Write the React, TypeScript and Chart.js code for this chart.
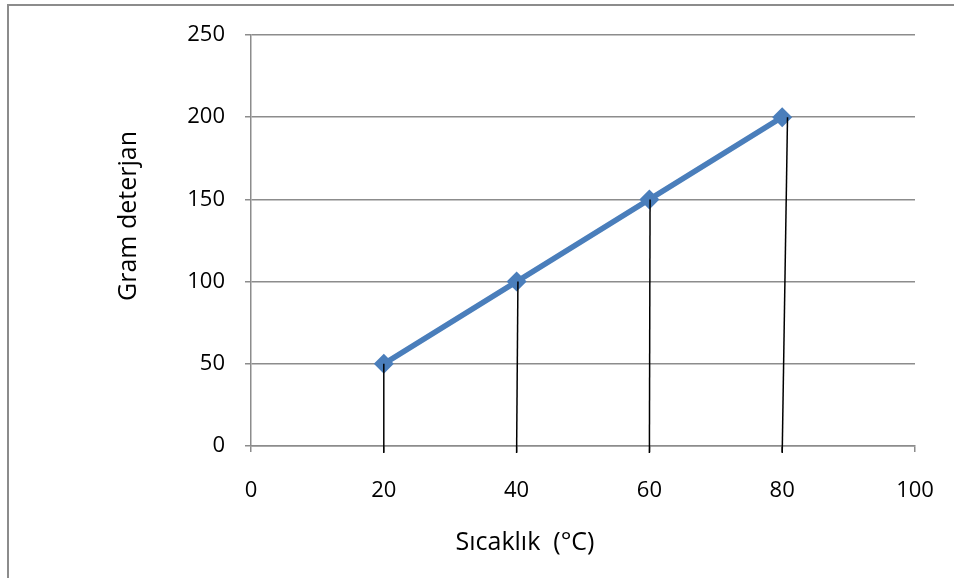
import React, { useEffect, useRef } from "react";
import { Chart, registerables } from "chart.js";

Chart.register(...registerables);

const temperatures = [20, 40, 60, 80];
const detergentGrams = [50, 100, 150, 200];
// hand-drawn drop lines: x value where each line meets its point (slightly slanted)
const dropLineTopX = [20, 40.2, 60.1, 80.8];
const xTitle = "Sıcaklık  (°C)";
const yTitle = "Gram deterjan";

const FONT = "'Open Sans', sans-serif";
const GRID = "#8c8c8c";
const SERIES = "#4a7ebb";

const dropLines = {
  id: "dropLines",
  afterDatasetsDraw(chart: any) {
    const { ctx, scales } = chart;
    const x = scales.x;
    const y = scales.y;
    ctx.save();
    ctx.strokeStyle = "#000000";
    ctx.lineWidth = 1.5;
    temperatures.forEach((t, i) => {
      ctx.beginPath();
      ctx.moveTo(x.getPixelForValue(dropLineTopX[i]), y.getPixelForValue(detergentGrams[i]));
      ctx.lineTo(x.getPixelForValue(t), y.getPixelForValue(0) + 7);
      ctx.stroke();
    });
    ctx.restore();
  },
};

const axisTitles = {
  id: "axisTitles",
  afterDraw(chart: any) {
    const { ctx, chartArea } = chart;
    ctx.save();
    ctx.fillStyle = "#000";
    ctx.font = `25px ${FONT}`;
    ctx.textAlign = "center";
    ctx.textBaseline = "middle";
    ctx.fillText(xTitle, chartArea.left + 274, chartArea.bottom + 97);
    ctx.translate(chartArea.left - 122, chartArea.top + 181);
    ctx.rotate(-Math.PI / 2);
    ctx.fillText(yTitle, 0, 0);
    ctx.restore();
  },
};

export default function App() {
  const ref = useRef<HTMLCanvasElement | null>(null);
  useEffect(() => {
    if (!ref.current) return;
    const chart = new Chart(ref.current, {
      type: "line",
      data: {
        datasets: [
          {
            data: temperatures.map((t, i) => ({ x: t, y: detergentGrams[i] })),
            borderColor: SERIES,
            backgroundColor: SERIES,
            borderWidth: 5.5,
            pointStyle: "rectRot",
            pointRadius: 10,
            pointBorderWidth: 0,
            pointBackgroundColor: SERIES,
            tension: 0,
          },
        ],
      },
      plugins: [dropLines, axisTitles],
      options: {
        animation: false,
        responsive: false,
        devicePixelRatio: 1,
        layout: { padding: { left: 0, top: 35, right: 39, bottom: 0 } },
        plugins: { legend: { display: false }, tooltip: { enabled: false } },
        scales: {
          x: {
            type: "linear",
            min: 0,
            max: 100,
            afterFit: (s: any) => {
              s.height = 132;
              s.paddingLeft = 0;
              s.paddingRight = 0;
            },
            ticks: {
              stepSize: 20,
              color: "#000",
              padding: 26,
              maxRotation: 0,
              font: { family: FONT, size: 22 },
            },
            grid: { drawOnChartArea: false, drawTicks: true, tickLength: 6, color: GRID, lineWidth: 1.5 },
            border: { color: GRID, width: 1.5 },
          },
          y: {
            min: 0,
            max: 250,
            afterFit: (s: any) => {
              s.width = 251;
              s.paddingTop = 0;
              s.paddingBottom = 0;
            },
            ticks: {
              stepSize: 50,
              color: "#000",
              padding: 20,
              font: { family: FONT, size: 22 },
            },
            grid: { color: GRID, lineWidth: 1.5, tickLength: 6 },
            border: { color: GRID, width: 1.5 },
          },
        },
      },
    });
    return () => chart.destroy();
  }, []);

  return (
    <>
      <div
        style={{
          position: "fixed",
          left: 7,
          top: 4,
          width: 1200,
          height: 900,
          borderLeft: "2.5px solid #8c8c8c",
          borderTop: "2px solid #8c8c8c",
          boxSizing: "border-box",
        }}
      />
      <canvas
        ref={ref}
        width={954}
        height={578}
        style={{ position: "fixed", left: 0, top: 0, width: 954, height: 578 }}
      />
    </>
  );
}
